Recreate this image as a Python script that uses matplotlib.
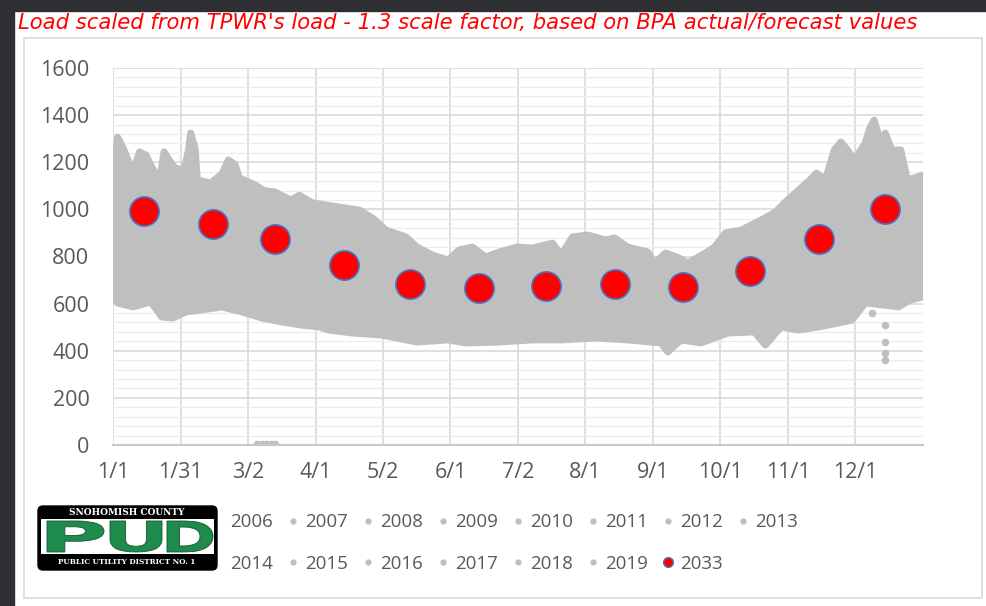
# 负荷散点图: 2006-2019 历史负荷 + 2033 月度预测
import matplotlib
matplotlib.use('Agg')
import matplotlib.pyplot as plt
from matplotlib.lines import Line2D
from matplotlib.patches import Rectangle, FancyBboxPatch, PathPatch
from matplotlib.textpath import TextPath
from matplotlib.font_manager import FontProperties
from matplotlib.transforms import Affine2D

# 横轴刻度 (一年中的第几天, 1/1 = 0)
tick_days = [i * 365 / 12 for i in range(12)]
tick_labels = ['1/1', '1/31', '3/2', '4/1', '5/2', '6/1', '7/2', '8/1', '9/1',
               '10/1', '11/1', '12/1']

# 历史负荷点云的上边界
upper_days = [0, 1, 2, 3, 5, 8, 10, 12, 15, 17, 21, 23, 26, 28, 32, 34, 35, 37, 38,
              44, 49, 52, 55, 57, 64, 68, 73, 80, 84, 90, 102, 111, 117, 123, 132,
              137, 144, 151, 156, 162, 168, 174, 182, 189, 198, 202, 207, 214, 222,
              226, 232, 241, 244, 249, 255, 259, 267, 271, 276, 283, 292, 298, 304,
              314, 317, 321, 325, 328, 331, 334, 339, 341, 343, 346, 348, 351, 355,
              358, 361, 365]
upper_load = [1082, 1200, 1307, 1290, 1252, 1180, 1188, 1244, 1230, 1188, 1125, 1244,
              1200, 1175, 1167, 1250, 1324, 1260, 1125, 1112, 1150, 1210, 1190, 1133,
              1104, 1080, 1074, 1040, 1060, 1027, 1010, 997, 963, 912, 883, 840, 806,
              785, 828, 840, 798, 819, 840, 836, 857, 806, 883, 891, 870, 879, 840,
              819, 772, 815, 794, 772, 815, 840, 900, 912, 955, 985, 1040, 1125, 1154,
              1125, 1252, 1286, 1252, 1210, 1282, 1345, 1379, 1282, 1324, 1252, 1252,
              1125, 1133, 1146]

# 历史负荷点云的下边界
lower_days = [0, 2, 9, 17, 22, 27, 33, 40, 49, 58, 67, 76, 85, 93, 97, 108, 121, 137,
              151, 159, 174, 189, 202, 217, 232, 247, 250, 256, 265, 277, 289, 294,
              301, 309, 318, 327, 333, 339, 354, 359, 365]
lower_load = [628, 603, 586, 607, 543, 539, 565, 573, 586, 565, 539, 522, 509, 501,
              488, 475, 467, 437, 446, 433, 437, 446, 446, 454, 446, 433, 395, 446,
              433, 475, 480, 424, 501, 488, 501, 518, 530, 603, 586, 615, 628]

# 离群点
outlier_days = [65, 67, 69, 71, 73, 342, 348, 348, 348, 348]
outlier_load = [5, 5, 5, 5, 5, 560, 509, 438, 390, 361]

# 2033 年月度负荷
month_days = [14, 45, 73, 104, 134, 165, 195, 226, 257, 287, 318, 348]
load_2033 = [993, 938, 874, 764, 683, 668, 676, 682, 672, 738, 873, 1000]

years = [str(y) for y in range(2006, 2020)]

W, H = 987, 606
fig = plt.figure(figsize=(W / 100, H / 100), dpi=100)
fig.patch.set_facecolor('white')

# 外面的深色背景
fig.patches.append(Rectangle((0, 1 - 11 / H), 1, 11 / H, transform=fig.transFigure,
                             color='#2d2f33', zorder=0))
fig.patches.append(Rectangle((0, 0), 14 / W, 1, transform=fig.transFigure,
                             color='#2d2f33', zorder=0))
# 图表边框
fig.patches.append(Rectangle((24 / W, 1 - 598 / H), 958 / W, 560 / H,
                             transform=fig.transFigure, fill=False,
                             edgecolor='#d9d9d9', lw=1.2, zorder=1))

fig.text(18 / W, 1 - 23 / H,
         "Load scaled from TPWR's load - 1.3 scale factor, based on BPA actual/forecast values",
         color='#ff0000', style='italic', fontsize=15.2, family='DejaVu Sans',
         ha='left', va='center')

ax = fig.add_axes([113 / W, 1 - 445 / H, 810 / W, 377 / H])
ax.set_xlim(0, 365)
ax.set_ylim(0, 1600)

# 灰色点云
poly_x = upper_days + lower_days[::-1]
poly_y = upper_load + lower_load[::-1]
ax.fill(poly_x, poly_y, facecolor='#bfbfbf', edgecolor='#bfbfbf', lw=5,
        joinstyle='round', zorder=2)
ax.scatter(outlier_days, outlier_load, s=20, color='#bfbfbf', zorder=2)

ax.scatter(month_days, load_2033, s=440, color='#ff0000', edgecolor='#4472c4',
           linewidth=1.2, zorder=3)

ax.set_xticks(tick_days)
ax.set_xticklabels(tick_labels)
ax.set_yticks(range(0, 1601, 200))
ax.set_yticks(range(0, 1601, 40), minor=True)
ax.tick_params(length=0, labelsize=15.5, labelcolor='#595959')
ax.tick_params(axis='y', pad=17)
ax.tick_params(axis='x', pad=12)
ax.tick_params(which='minor', length=0)
for lab in ax.get_xticklabels() + ax.get_yticklabels():
    lab.set_family('Open Sans')

ax.set_axisbelow(True)
ax.grid(which='major', color='#d9d9d9', lw=1.2)
ax.grid(which='minor', axis='y', color='#ececec', lw=0.8)
for s in ['left', 'right', 'top']:
    ax.spines[s].set_visible(False)
ax.spines['bottom'].set_color('#c8c8c8')
ax.spines['bottom'].set_linewidth(1.5)

# 图例 (按行排列)
gray_h = [Line2D([], [], ls='', marker='o', ms=3.5, color='#bfbfbf') for _ in years]
red_h = Line2D([], [], ls='', marker='o', ms=7, color='#ff0000',
               markeredgecolor='#4472c4', markeredgewidth=1)
row1 = list(zip(gray_h[:8], years[:8]))
row2 = list(zip(gray_h[8:], years[8:])) + [(red_h, '2033')]
order = []
for i in range(7):
    order.append(row1[i])
    order.append(row2[i])
order.append(row1[7])
leg = fig.legend([h for h, _ in order], [t for _, t in order], ncol=8,
                 loc='center left', bbox_to_anchor=(209 / W, 1 - 543 / H),
                 frameon=False, handlelength=1.0,
                 handletextpad=0.15, columnspacing=0.56, labelspacing=1.27,
                 borderpad=0, borderaxespad=0, prop={'family': 'Open Sans', 'size': 13.5})
for t in leg.get_texts():
    t.set_color('#595959')

# PUD 标志
lg = fig.add_axes([28 / W, 1 - 580 / H, 198 / W, 80 / H])
lg.set_zorder(10)
lg.set_xlim(28, 226)
lg.set_ylim(580, 500)
lg.set_facecolor('white')
lg.set_xticks([])
lg.set_yticks([])
for s in lg.spines.values():
    s.set_visible(False)
lg.add_patch(FancyBboxPatch((38, 506), 179, 64, boxstyle='round,pad=0,rounding_size=5',
                            facecolor='black', edgecolor='black'))
lg.add_patch(Rectangle((41, 519), 173, 35, facecolor='white', edgecolor='none'))

# 把每个字母拉伸到给定的方框里
fp = FontProperties(family='DejaVu Sans', weight='bold')
for letter, (x0, x1) in zip('PUD', [(47, 104), (110, 162), (167, 213)]):
    tp = TextPath((0, 0), letter, size=1, prop=fp)
    ext = tp.get_extents()
    y0, y1 = 521, 552
    tr = (Affine2D().translate(-ext.x0, -ext.y0)
          .scale((x1 - x0) / ext.width, -(y1 - y0) / ext.height)
          .translate(x0, y1))
    lg.add_patch(PathPatch(tr.transform_path(tp), facecolor='#1e8a4c',
                           edgecolor='#14532e', lw=0.6))
lg.text(127, 512.5, 'SNOHOMISH COUNTY', color='white', fontsize=6.5,
        fontweight='bold', ha='center', va='center', family='DejaVu Serif')
lg.text(127, 562, 'PUBLIC UTILITY DISTRICT NO. 1', color='white', fontsize=5.2,
        fontweight='bold', ha='center', va='center', family='DejaVu Serif')

fig.savefig('out.png', dpi=100)
